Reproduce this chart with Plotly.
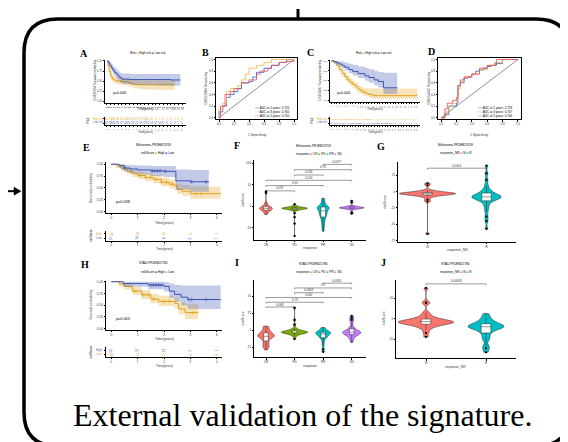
import plotly.graph_objects as go

# ======================= DATA =======================
# --- Panel A: Kaplan-Meier, cohort 1 (time in years) ---
A_high_t  = [0, 0.3, 0.6, 1.0, 1.4, 1.8, 2.3, 3.0, 4.0, 5.0, 6.0, 7.0, 9.0, 12.0, 15.0, 18.0]
A_high_s  = [1.00, 0.88, 0.74, 0.62, 0.56, 0.53, 0.51, 0.50, 0.49, 0.48, 0.45, 0.42, 0.41, 0.41, 0.41, 0.41]
A_high_lo = [1.00, 0.82, 0.67, 0.54, 0.48, 0.45, 0.43, 0.42, 0.41, 0.39, 0.36, 0.32, 0.30, 0.29, 0.28, 0.28]
A_high_hi = [1.00, 0.94, 0.82, 0.71, 0.65, 0.62, 0.60, 0.59, 0.58, 0.57, 0.55, 0.53, 0.52, 0.52, 0.52, 0.52]
A_low_t   = [0, 0.4, 0.8, 1.2, 1.6, 2.0, 2.5, 3.0, 3.5, 4.0, 6.0, 9.0, 13.0, 17.0, 19.5]
A_low_s   = [1.00, 0.95, 0.89, 0.83, 0.77, 0.72, 0.67, 0.62, 0.58, 0.55, 0.54, 0.54, 0.54, 0.53, 0.53]
A_low_lo  = [1.00, 0.89, 0.81, 0.74, 0.67, 0.62, 0.56, 0.51, 0.46, 0.43, 0.42, 0.41, 0.40, 0.39, 0.39]
A_low_hi  = [1.00, 1.00, 0.97, 0.92, 0.87, 0.83, 0.78, 0.74, 0.71, 0.69, 0.68, 0.68, 0.68, 0.68, 0.68]
A_pval = "p=0.006"
A_ticks = list(range(0, 21))
A_risk_high = [40, 33, 26, 23, 21, 20, 19, 18, 17, 15, 14, 12, 10, 9, 7, 6, 5, 4, 2, 1, 0]
A_risk_low  = [41, 38, 33, 29, 27, 26, 25, 23, 21, 19, 17, 15, 13, 12, 10, 8, 6, 4, 3, 1, 0]

# --- Panel B: time-dependent ROC, cohort 1 ---
B_fpr_1 = [0, 0.00, 0.05, 0.05, 0.10, 0.10, 0.15, 0.20, 0.25, 0.30, 0.30, 0.40, 0.45, 0.50, 0.60, 0.70, 0.80, 0.90, 1.0]
B_tpr_1 = [0, 0.10, 0.10, 0.20, 0.25, 0.35, 0.40, 0.45, 0.50, 0.55, 0.60, 0.62, 0.70, 0.78, 0.85, 0.90, 0.95, 1.00, 1.0]
B_fpr_3 = [0, 0.00, 0.05, 0.10, 0.15, 0.25, 0.30, 0.35, 0.40, 0.50, 0.60, 0.70, 1.0]
B_tpr_3 = [0, 0.15, 0.25, 0.45, 0.50, 0.55, 0.65, 0.75, 0.85, 0.90, 0.95, 1.00, 1.0]
B_fpr_5 = [0, 0.02, 0.08, 0.08, 0.15, 0.20, 0.30, 0.40, 0.50, 0.55, 0.65, 0.70, 0.80, 0.90, 1.0]
B_tpr_5 = [0, 0.20, 0.20, 0.40, 0.45, 0.50, 0.60, 0.65, 0.75, 0.80, 0.85, 0.90, 0.95, 0.97, 1.0]
B_auc = ["0.716", "0.760", "0.750"]

# --- Panel C: Kaplan-Meier, cohort 2 ---
C_high_t  = [0, 1, 2, 3, 4, 5, 6, 7, 8, 9, 10, 11, 12, 13, 14, 15.5, 32]
C_high_s  = [1.00, 0.95, 0.88, 0.78, 0.68, 0.60, 0.52, 0.45, 0.40, 0.35, 0.28, 0.24, 0.20, 0.17, 0.15, 0.12, 0.12]
C_high_lo = [1.00, 0.91, 0.82, 0.71, 0.60, 0.51, 0.43, 0.36, 0.31, 0.26, 0.19, 0.15, 0.12, 0.09, 0.07, 0.04, 0.03]
C_high_hi = [1.00, 0.99, 0.94, 0.86, 0.77, 0.70, 0.62, 0.55, 0.50, 0.45, 0.38, 0.34, 0.31, 0.30, 0.30, 0.30, 0.32]
C_low_t   = [0, 1, 2, 3, 4, 5, 6.5, 8, 10, 12.5, 14, 16, 17.5, 19.4, 24.5]
C_low_s   = [1.00, 0.98, 0.95, 0.92, 0.88, 0.84, 0.78, 0.73, 0.68, 0.62, 0.58, 0.52, 0.48, 0.32, 0.32]
C_low_lo  = [1.00, 0.95, 0.90, 0.86, 0.81, 0.76, 0.69, 0.63, 0.57, 0.50, 0.45, 0.38, 0.33, 0.16, 0.16]
C_low_hi  = [1.00, 1.00, 1.00, 0.99, 0.98, 0.96, 0.93, 0.90, 0.86, 0.82, 0.79, 0.75, 0.72, 0.70, 0.70]
C_pval = "p=0.004"
C_ticks = list(range(0, 33))
C_risk_high = [98, 90, 78, 64, 52, 43, 36, 30, 26, 22, 19, 17, 15, 13, 12, 10, 9, 8, 7, 6, 6, 5, 5, 4, 4, 3, 3, 2, 2, 1, 1, 1, 0]
C_risk_low  = [99, 97, 93, 88, 84, 79, 74, 69, 65, 60, 56, 52, 48, 44, 40, 36, 33, 30, 26, 22, 18, 15, 12, 9, 6, 4, 2, 1, 0, 0, 0, 0, 0]

# --- Panel D: time-dependent ROC, cohort 2 ---
D_fpr_1 = [0, 0.05, 0.10, 0.10, 0.20, 0.20, 0.22, 0.22, 0.25, 0.30, 0.35, 0.40, 0.45, 0.50, 0.55, 0.60, 0.65, 0.72, 0.80, 1.0]
D_tpr_1 = [0, 0.05, 0.15, 0.20, 0.20, 0.25, 0.45, 0.55, 0.60, 0.68, 0.70, 0.75, 0.80, 0.82, 0.85, 0.88, 0.90, 0.93, 1.00, 1.0]
D_fpr_3 = [0, 0.05, 0.10, 0.15, 0.20, 0.22, 0.25, 0.30, 0.40, 0.50, 0.60, 0.70, 0.80, 1.0]
D_tpr_3 = [0, 0.10, 0.20, 0.25, 0.30, 0.50, 0.62, 0.70, 0.75, 0.82, 0.90, 0.95, 1.00, 1.0]
D_fpr_5 = [0, 0.05, 0.08, 0.15, 0.20, 0.22, 0.25, 0.30, 0.40, 0.50, 0.60, 0.70, 0.72, 1.0]
D_tpr_5 = [0, 0.15, 0.25, 0.30, 0.35, 0.55, 0.65, 0.70, 0.75, 0.85, 0.90, 0.93, 1.00, 1.0]
D_auc = ["0.728", "0.747", "0.744"]

# --- Panel E: KM, Melanoma-PRJEB23709 ---
E_high_t  = [0, 0.2, 0.4, 0.6, 0.8, 1.0, 1.3, 1.6, 1.9, 2.2, 2.4, 2.5, 2.7, 3.0, 4.15]
E_high_s  = [1.00, 0.96, 0.90, 0.85, 0.80, 0.76, 0.72, 0.68, 0.62, 0.58, 0.55, 0.47, 0.43, 0.38, 0.38]
E_high_lo = [1.00, 0.92, 0.85, 0.79, 0.73, 0.69, 0.64, 0.60, 0.54, 0.49, 0.46, 0.37, 0.33, 0.27, 0.27]
E_high_hi = [1.00, 1.00, 0.96, 0.92, 0.88, 0.84, 0.81, 0.77, 0.72, 0.68, 0.66, 0.59, 0.56, 0.53, 0.53]
E_low_t   = [0, 0.3, 0.5, 0.7, 1.0, 1.5, 2.0, 2.45, 3.0, 3.7]
E_low_s   = [1.00, 0.97, 0.92, 0.90, 0.88, 0.86, 0.85, 0.65, 0.63, 0.63]
E_low_lo  = [1.00, 0.91, 0.84, 0.81, 0.78, 0.75, 0.73, 0.46, 0.42, 0.42]
E_low_hi  = [1.00, 1.00, 0.99, 0.98, 0.97, 0.96, 0.96, 0.89, 0.88, 0.88]
E_cens_high = [1.1, 1.3, 1.5, 1.7, 1.9, 2.1, 2.3, 3.2, 3.4]
E_cens_low  = [0.5, 1.55, 1.65, 1.75, 1.85, 2.05, 3.05, 3.6]
E_pval = "p=0.038"
E_risk_high = [54, 36, 15, 3, 1]
E_risk_low  = [19, 14, 8, 3, 1]

# --- Panel F: riskScore by response, Melanoma-PRJEB23709 ---
resp4 = ["CR", "PD", "PR", "SD"]
F_CR = [-19, -16, -13, -11, -10, -9, -8, -7, -6, -5, -5, -4, -4, -3, -2, -1, 0, 2, 5, 9, 31, 35]
F_PD = [-69, -40, -25, -16, -11, -9, -8, -7, -7, -6, -6, -6, -5, -5, -5, -5, -5, -4, -4, -4, -4,
        -3, -3, -3, -2, -2, -1, 0, 2, 5]
F_PR = [-58, -50, -44, -38, -33, -29, -26, -23, -21, -19, -17, -15, -13, -11, -9, -8, -6, -5, -4,
        -3, -2, -1, 0, 2, 5, 9, 14, 19]
F_SD = [-17, -14, -7, -6, -5, -5, -4, -4, -4, -3, -3, -3, -3, -2, -2, -1, 0, 1, 9, 13]
F_pairs = [(0, 1), (0, 2), (0, 3), (1, 2), (1, 3), (2, 3)]
F_p = ["0.037", "0.95", "0.014", "0.026", "0.78", "0.0077"]

# --- Panel G: riskScore by response_NR, Melanoma-PRJEB23709 ---
resp2 = ["N", "R"]
G_N = [-65, -15, -12, -8, -7, -6, -5, -5, -4, -4, -4, -3, -3, -3, -3, -3, -2, -2, -2, -2, -1, -1,
       0, 1, 2, 10, 13]
G_R = [-57, -45, -38, -30, -24, -20, -16, -14, -13, -12, -11, -10, -9, -9, -8, -8, -7, -7, -6, -5,
       -4, -3, -2, 0, 2, 5, 10, 18, 28, 40]
G_p = "0.0014"

# --- Panel H: KM, STAD-PRJEB25780 ---
H_high_t  = [0, 0.45, 1.4, 2.0, 2.2, 2.4, 2.65, 2.9, 4.15]
H_high_s  = [1.00, 0.96, 0.93, 0.90, 0.80, 0.73, 0.67, 0.62, 0.62]
H_high_lo = [1.00, 0.89, 0.84, 0.79, 0.66, 0.57, 0.49, 0.42, 0.42]
H_high_hi = [1.00, 1.00, 1.00, 0.99, 0.96, 0.93, 0.92, 0.92, 0.92]
H_low_t   = [0, 0.3, 0.5, 0.8, 1.15, 1.5, 1.8, 2.4, 2.55, 2.8, 3.3]
H_low_s   = [1.00, 0.95, 0.90, 0.80, 0.72, 0.63, 0.58, 0.54, 0.42, 0.34, 0.34]
H_low_lo  = [1.00, 0.89, 0.83, 0.72, 0.63, 0.54, 0.48, 0.43, 0.30, 0.20, 0.18]
H_low_hi  = [1.00, 1.00, 0.97, 0.89, 0.82, 0.74, 0.70, 0.66, 0.56, 0.52, 0.52]
H_cens_high = [1.5, 1.6, 1.7, 1.8, 1.9, 2.95, 3.05, 3.6]
H_cens_low  = [0.9, 1.2, 1.4, 1.6, 2.0, 2.2, 3.1]
H_pval = "p=0.063"
H_risk_high = [52, 37, 19, 5, 1]
H_risk_low  = [48, 31, 15, 4, 0]

# --- Panel I: riskScore by response, STAD-PRJEB25780 ---
I_CR = [-29, -25, -24, -22, -19, -18, -15, -13, -12, -11, -10, -9, -9, -8, -7, -7, -6, -5, -4, -3,
        -2, 0, 2, 4, 6]
I_PD = [-13, -9, -7, -6, -5, -5, -4, -4, -4, -3, -3, -3, -3, -2, -2, -2, -1, -1, 0, 1, 3, 8, 15, 33]
I_PR = [-32, -28, -22, -17, -13, -11, -10, -9, -8, -7, -6, -5, -5, -4, -4, -3, -3, -2, -1, 0, 2, 4]
I_SD = [-18, -14, -11, -9, -8, -7, -6, -5, -5, -4, -4, -3, -3, -2, -2, -1, 0, 1, 3, 6, 12, 15, 18, 21]
I_p = ["0.068", "0.79", "0.062", "0.0063", "0.5", "0.0095"]

# --- Panel J: riskScore by response_NR, STAD-PRJEB25780 ---
J_N = [-18, -14, -11, -9, -8, -7, -6, -6, -5, -5, -5, -4, -4, -4, -4, -3, -3, -3, -3, -2, -2, -2,
       -1, -1, 0, 1, 2, 4, 6, 15, 16, 30]
J_R = [-33, -29, -27, -21, -19, -16, -14, -12, -11, -10, -9, -9, -8, -8, -8, -7, -7, -6, -6, -5,
       -4, -3, -2, 0, 2, 5]
J_p = "0.00095"

caption = "External validation of the signature."

# ======================= FIGURE =======================
W, H = 568, 442
ORANGE, BLUE = "#E3A21A", "#3D54B3"
ORANGE_F, BLUE_F = "rgba(227,162,26,0.30)", "rgba(61,84,179,0.30)"
ROC_C = ["#2F5BD0", "#F2B544", "#E8475A"]
VCOL4 = ["#F8766D", "#7CAE00", "#00BFC4", "#C77CFF"]
VCOL2 = ["#F8766D", "#00BFC4"]
TXT = "#333333"
SANS = "Liberation Sans"
SERIF = "Liberation Serif"

fig = go.Figure()
layout = {}
annotations = []
shapes = []


def X(p):
    return p / W


def Y(p):
    return 1 - p / H


AXN = [0]


def make_axes(x0, y0, x1, y1, xr, yr, xt=None, yt=None, xtt=None, ytt=None, mirror=False,
              xlab=True, ylab=True, fs=3.2, tl=1.5):
    AXN[0] += 1
    k = AXN[0]
    s = "" if k == 1 else str(k)
    base = dict(showline=True, linecolor="black", linewidth=0.6, mirror=mirror, ticks="outside",
                ticklen=tl, tickwidth=0.5, tickcolor="black",
                tickfont=dict(size=fs, color=TXT, family=SANS), showgrid=False, zeroline=False)
    xa = dict(base, domain=[X(x0), X(x1)], range=xr, anchor="y" + s, showticklabels=xlab)
    ya = dict(base, domain=[Y(y1), Y(y0)], range=yr, anchor="x" + s, showticklabels=ylab)
    if xt is not None:
        xa.update(tickmode="array", tickvals=xt, ticktext=xtt if xtt else [str(v) for v in xt])
    if yt is not None:
        ya.update(tickmode="array", tickvals=yt, ticktext=ytt if ytt else [str(v) for v in yt])
    layout["xaxis" + s] = xa
    layout["yaxis" + s] = ya
    return "x" + s, "y" + s


def note(text, px, py, size, color="black", family=SANS, xa="center", ya="middle", angle=0, **kw):
    annotations.append(dict(text=text, x=X(px), y=Y(py), xref="paper", yref="paper", showarrow=False,
                            font=dict(size=size, color=color, family=family), xanchor=xa, yanchor=ya,
                            textangle=angle, **kw))


def titles(xtext, xpx, ypx, ytext, yx, yy, size=3.4):
    note(xtext, xpx, ypx, size, color=TXT)
    if ytext:
        note(ytext, yx, yy, size, color=TXT, angle=-90)


def step_at(t, times, surv):
    v = surv[0]
    for tt, ss in zip(times, surv):
        if tt <= t:
            v = ss
    return v


def add_km(ax, t, s, lo, hi, color, fill, cens=None):
    xr, yr = ax
    fig.add_trace(go.Scatter(x=t, y=lo, xaxis=xr, yaxis=yr, mode="lines",
                             line=dict(width=0, shape="hv"), hoverinfo="skip"))
    fig.add_trace(go.Scatter(x=t, y=hi, xaxis=xr, yaxis=yr, mode="lines", fill="tonexty",
                             fillcolor=fill, line=dict(width=0, shape="hv"), hoverinfo="skip"))
    fig.add_trace(go.Scatter(x=t, y=s, xaxis=xr, yaxis=yr, mode="lines",
                             line=dict(color=color, width=1, shape="hv")))
    if cens:
        fig.add_trace(go.Scatter(x=cens, y=[step_at(c, t, s) for c in cens], xaxis=xr, yaxis=yr,
                                 mode="markers", marker=dict(symbol="cross-thin", size=3,
                                                             line=dict(width=0.6, color=color))))


def add_roc(ax, curves):
    xr, yr = ax
    fig.add_trace(go.Scatter(x=[0, 1], y=[0, 1], xaxis=xr, yaxis=yr, mode="lines",
                             line=dict(color="#444444", width=0.6)))
    for (f, t), c in zip(curves, ROC_C):
        fig.add_trace(go.Scatter(x=f, y=t, xaxis=xr, yaxis=yr, mode="lines",
                                 line=dict(color=c, width=0.8, shape="hv")))


def add_violins(ax, groups, colors, widths, bws):
    xr, yr = ax
    for i, (d, c, w, bw) in enumerate(zip(groups, colors, widths, bws)):
        fig.add_trace(go.Violin(y=d, x0=i, xaxis=xr, yaxis=yr, width=w, fillcolor=c,
                                line=dict(color="black", width=0.4), spanmode="hard", bandwidth=bw,
                                points="outliers", pointpos=0, jitter=0,
                                marker=dict(color="black", size=2.2),
                                box=dict(visible=True, width=min(0.9, 0.16 / w), fillcolor="white",
                                         line=dict(color="black", width=0.4)),
                                meanline=dict(visible=False), opacity=1))


def add_brackets(ax, pairs, labels, base, step, tip):
    xr, yr = ax
    for k, ((i, j), lab) in enumerate(zip(pairs, labels)):
        yv = base + k * step
        fig.add_trace(go.Scatter(x=[i, i, j, j], y=[yv - tip, yv, yv, yv - tip], xaxis=xr, yaxis=yr,
                                 mode="lines", line=dict(color="black", width=0.4)))
        annotations.append(dict(text=lab, x=(i + j) / 2, y=yv, xref=xr, yref=yr, showarrow=False,
                                yanchor="bottom", yshift=-1.5, font=dict(size=3.0, color=TXT, family=SANS)))


def add_risk_rows(ax, ticks, rows, colors, size, angle=0):
    xr, yr = ax
    for r, (vals, c) in enumerate(zip(rows, colors)):
        for t, v in zip(ticks, vals):
            annotations.append(dict(text=str(v), x=t, y=2 - r, xref=xr, yref=yr, showarrow=False,
                                    textangle=angle, font=dict(size=size, color=c, family=SANS)))


yt4 = [0, 0.25, 0.5, 0.75, 1.0]
yt4t = ["0.00", "0.25", "0.50", "0.75", "1.00"]
rt = [0, 0.2, 0.4, 0.6, 0.8, 1.0]
rtt = ["0.0", "0.2", "0.4", "0.6", "0.8", "1.0"]

# ---- A ----
axA = make_axes(97, 51, 178, 94, [-0.5, 21], [-0.03, 1.03], xt=A_ticks, yt=yt4, ytt=yt4t, fs=2.6)
add_km(axA, A_high_t, A_high_s, A_high_lo, A_high_hi, ORANGE, ORANGE_F)
add_km(axA, A_low_t, A_low_s, A_low_lo, A_low_hi, BLUE, BLUE_F)
annotations.append(dict(text=A_pval, x=1.0, y=0.2, xref=axA[0], yref=axA[1], showarrow=False,
                        xanchor="left", font=dict(size=3.6, color="black", family=SANS)))
titles("Time(years)", 137, 100.5, "GSE65904 Survival probability", 87, 72, 3.0)
axAt = make_axes(97, 108, 178, 117, [-0.5, 21], [0.4, 2.6], xt=A_ticks, yt=[1, 2], ylab=False,
                 fs=2.4, tl=1)
add_risk_rows(axAt, A_ticks, [A_risk_high, A_risk_low], [ORANGE, BLUE], 2.8)
titles("Time(years)", 137, 124, "", 0, 0, 2.8)
note(f"<span style='color:{ORANGE}'>High risk</span><br><span style='color:{BLUE}'>Low risk</span>",
     90, 112, 2.6)
note("Risk", 80, 112, 3.0, angle=-90)
note(f"Risk <span style='color:{ORANGE}'>■</span> High risk <span style='color:{BLUE}'>■</span> Low risk",
     140, 44, 3.0)

# ---- B ----
axB = make_axes(208, 49, 289, 111, [-0.04, 1.04], [-0.03, 1.03], xt=rt, xtt=rtt, yt=rt, ytt=rtt,
                mirror=True, fs=3.0)
add_roc(axB, [(B_fpr_1, B_tpr_1), (B_fpr_3, B_tpr_3), (B_fpr_5, B_tpr_5)])
titles("1-Specificity", 249, 127, "GSE65904 Sensitivity", 198, 80)
note("<br>".join(f"<span style='color:{c}'>━━</span> AUC at {y} years: {a}"
                 for c, y, a in zip(ROC_C, [1, 3, 5], B_auc)), 244, 103, 3.0, xa="left", align="left")

# ---- C ----
axC = make_axes(322, 51, 412, 93, [-0.5, 33], [-0.03, 1.03], xt=C_ticks, yt=yt4, ytt=yt4t, fs=2.2)
add_km(axC, C_high_t, C_high_s, C_high_lo, C_high_hi, ORANGE, ORANGE_F)
add_km(axC, C_low_t, C_low_s, C_low_lo, C_low_hi, BLUE, BLUE_F)
annotations.append(dict(text=C_pval, x=1.5, y=0.2, xref=axC[0], yref=axC[1], showarrow=False,
                        xanchor="left", font=dict(size=3.6, color="black", family=SANS)))
titles("Time(years)", 367, 100.5, "GSE54467 Survival probability", 312, 72, 3.0)
axCt = make_axes(322, 108, 412, 117, [-0.5, 33], [0.4, 2.6], xt=C_ticks, yt=[1, 2], ylab=False,
                 fs=2.0, tl=1)
add_risk_rows(axCt, C_ticks, [C_risk_high, C_risk_low], [ORANGE, BLUE], 2.2)
titles("Time(years)", 367, 124, "", 0, 0, 2.8)
note(f"<span style='color:{ORANGE}'>High risk</span><br><span style='color:{BLUE}'>Low risk</span>",
     314, 112, 2.6)
note("Risk", 304, 112, 3.0, angle=-90)
note(f"Risk <span style='color:{ORANGE}'>■</span> High risk <span style='color:{BLUE}'>■</span> Low risk",
     366, 44, 3.0)

# ---- D ----
axD = make_axes(430, 49, 513, 111, [-0.04, 1.04], [-0.03, 1.03], xt=rt, xtt=rtt, yt=rt, ytt=rtt,
                mirror=True, fs=3.0)
add_roc(axD, [(D_fpr_1, D_tpr_1), (D_fpr_3, D_tpr_3), (D_fpr_5, D_tpr_5)])
titles("1-Specificity", 471, 127, "GSE54467 Sensitivity", 421, 80)
note("<br>".join(f"<span style='color:{c}'>━━</span> AUC at {y} years: {a}"
                 for c, y, a in zip(ROC_C, [1, 3, 5], D_auc)), 467, 103, 3.0, xa="left", align="left")

# ---- E ----
t5 = [0, 1, 2, 3, 4]
axE = make_axes(98, 154, 214, 205, [-0.2, 4.2], [-0.03, 1.04], xt=t5, yt=yt4, ytt=yt4t, fs=3.2)
add_km(axE, E_high_t, E_high_s, E_high_lo, E_high_hi, ORANGE, ORANGE_F, E_cens_high)
add_km(axE, E_low_t, E_low_s, E_low_lo, E_low_hi, BLUE, BLUE_F, E_cens_low)
annotations.append(dict(text=E_pval, x=0.1, y=0.2, xref=axE[0], yref=axE[1], showarrow=False,
                        xanchor="left", font=dict(size=3.8, color="black", family=SANS)))
titles("Time(years)", 156, 214.5, "Survival probability", 83, 180, 3.6)
axEt = make_axes(98, 223, 214, 233, [-0.2, 4.2], [0.4, 2.6], xt=t5, yt=[1, 2], ylab=False,
                 fs=2.8, tl=1)
add_risk_rows(axEt, t5, [E_risk_high, E_risk_low], [ORANGE, BLUE], 3.2, angle=-90)
titles("Time(years)", 156, 241.5, "", 0, 0, 3.2)
note(f"<span style='color:{ORANGE}'>High</span><br><span style='color:{BLUE}'>Low</span>", 91, 228, 2.8)
note("riskScore", 83, 228, 3.0, angle=-90)
note("Melanoma-PRJEB23709", 145, 137, 3.2)
note(f"riskScore <span style='color:{ORANGE}'>■</span> High <span style='color:{BLUE}'>■</span> Low",
     150, 145, 3.2)

# ---- F ----
axF = make_axes(246, 152, 358, 232, [-0.42, 3.5], [-78, 107], xt=[0, 1, 2, 3], xtt=resp4,
                yt=[100, 50, 0, -50], fs=3.0)
add_violins(axF, [F_CR, F_PD, F_PR, F_SD], VCOL4, [0.45, 0.9, 0.42, 0.87], [3.0, 1.8, 4.0, 1.6])
add_brackets(axF, F_pairs, F_p, 36, 12.3, 3)
titles("response", 302, 240.5, "riskScore", 235, 192)
note("Melanoma-PRJEB23709", 305, 138, 3.2)
note("response " + " ".join(f"<span style='color:{c}'>■</span> {n}" for c, n in zip(VCOL4, resp4)),
     311, 146, 3.2)

# ---- G ----
axG = make_axes(390, 154, 508, 234, [-0.5, 1.5], [-77, 45], xt=[0, 1], xtt=resp2,
                yt=[25, 0, -25, -50, -75], fs=3.0)
add_violins(axG, [G_N, G_R], VCOL2, [0.95, 0.5], [1.8, 3.0])
add_brackets(axG, [(0, 1)], [G_p], 36, 0, 2)
titles("response_NR", 449, 242.5, "riskScore", 377, 194)
note("Melanoma-PRJEB23709", 447, 137, 3.2)
note("response_NR " + " ".join(f"<span style='color:{c}'>■</span> {n}" for c, n in zip(VCOL2, resp2)),
     448, 145, 3.2)

# ---- H ----
axH = make_axes(98, 273, 214, 322, [-0.2, 4.2], [-0.02, 1.02], xt=t5, yt=yt4, ytt=yt4t, fs=3.2)
add_km(axH, H_low_t, H_low_s, H_low_lo, H_low_hi, ORANGE, ORANGE_F, H_cens_low)
add_km(axH, H_high_t, H_high_s, H_high_lo, H_high_hi, BLUE, BLUE_F, H_cens_high)
annotations.append(dict(text=H_pval, x=0.1, y=0.2, xref=axH[0], yref=axH[1], showarrow=False,
                        xanchor="left", font=dict(size=3.8, color="black", family=SANS)))
titles("Time(years)", 156, 331.5, "Survival probability", 83, 297, 3.6)
axHt = make_axes(98, 340, 214, 350, [-0.2, 4.2], [0.4, 2.6], xt=t5, yt=[1, 2], ylab=False,
                 fs=2.8, tl=1)
add_risk_rows(axHt, t5, [H_risk_high, H_risk_low], [BLUE, ORANGE], 3.2, angle=-90)
titles("Time(years)", 156, 358.5, "", 0, 0, 3.2)
note(f"<span style='color:{BLUE}'>High</span><br><span style='color:{ORANGE}'>Low</span>", 91, 345, 2.8)
note("riskScore", 83, 345, 3.0, angle=-90)
note("STAD-PRJEB25780", 145, 255, 3.2)
note(f"riskScore <span style='color:{BLUE}'>■</span> High <span style='color:{ORANGE}'>■</span> Low",
     150, 264, 3.2)

# ---- I ----
axI = make_axes(246, 272, 358, 350, [-0.42, 3.5], [-40, 74], xt=[0, 1, 2, 3], xtt=resp4,
                yt=[50, 25, 0, -25], fs=3.0)
add_violins(axI, [I_CR, I_PD, I_PR, I_SD], VCOL4, [0.58, 0.93, 0.52, 0.64], [2.2, 1.6, 2.2, 2.4])
add_brackets(axI, F_pairs, I_p, 34, 7, 1.8)
titles("response", 302, 358.5, "riskScore", 235, 311)
note("STAD-PRJEB25780", 305, 256, 3.2)
note("response " + " ".join(f"<span style='color:{c}'>■</span> {n}" for c, n in zip(VCOL4, resp4)),
     311, 264, 3.2)

# ---- J ----
axJ = make_axes(388, 272, 508, 351, [-0.5, 1.5], [-39, 38], xt=[0, 1], xtt=resp2,
                yt=[20, 0, -20], fs=3.0)
add_violins(axJ, [J_N, J_R], VCOL2, [0.93, 0.6], [1.8, 2.2])
add_brackets(axJ, [(0, 1)], [J_p], 34, 0, 1.5)
titles("response_NR", 448, 359.5, "riskScore", 376, 311)
note("STAD-PRJEB25780", 447, 256, 3.2)
note("response_NR " + " ".join(f"<span style='color:{c}'>■</span> {n}" for c, n in zip(VCOL2, resp2)),
     448, 264, 3.2)

# ---- panel letters ----
for lab, px, py in [("A", 76, 45), ("B", 197, 44), ("C", 302, 44), ("D", 423, 43), ("E", 78, 139),
                    ("F", 229, 137), ("G", 373, 138), ("H", 77, 257), ("I", 229, 255), ("J", 375, 255)]:
    note(f"<b>{lab}</b>", px, py, 10, family=SERIF)

# ---- caption ----
note(caption, 294, 408, 32, family=SERIF)

# ---- frame, connector line, arrow ----
L, R, T, B, r = 16, 562, 10, 439, 34
frame = (f"M {X(L)},{Y(T + r)} Q {X(L)},{Y(T)} {X(L + r)},{Y(T)} L {X(R - r)},{Y(T)} "
         f"Q {X(R)},{Y(T)} {X(R)},{Y(T + r)} L {X(R)},{Y(B - r)} Q {X(R)},{Y(B)} {X(R - r)},{Y(B)} "
         f"L {X(L + r)},{Y(B)} Q {X(L)},{Y(B)} {X(L)},{Y(B - r)} Z")
shapes.append(dict(type="path", path=frame, xref="paper", yref="paper",
                   line=dict(color="black", width=3.5)))
shapes.append(dict(type="line", x0=X(290), x1=X(290), y0=Y(0), y1=Y(10), xref="paper", yref="paper",
                   line=dict(color="black", width=3)))
shapes.append(dict(type="line", x0=X(0), x1=X(7), y0=Y(183), y1=Y(183), xref="paper", yref="paper",
                   line=dict(color="black", width=2)))
shapes.append(dict(type="path", path=f"M {X(6)},{Y(179)} L {X(13)},{Y(183)} L {X(6)},{Y(187)} Z",
                   xref="paper", yref="paper", fillcolor="black", line=dict(color="black", width=0.5)))

fig.update_layout(width=W, height=H, margin=dict(l=0, r=0, t=0, b=0), paper_bgcolor="white",
                  plot_bgcolor="white", showlegend=False, violinmode="overlay",
                  annotations=annotations, shapes=shapes, font=dict(family=SANS), **layout)
fig.write_html("out.html")
